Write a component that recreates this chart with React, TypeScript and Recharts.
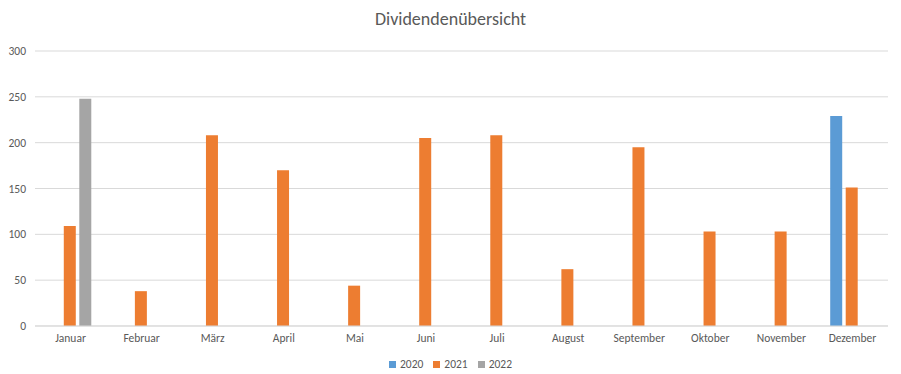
import React from "react";
import { BarChart, Bar, XAxis, YAxis, CartesianGrid } from "recharts";

const months = ["Januar", "Februar", "März", "April", "Mai", "Juni", "Juli", "August", "September", "Oktober", "November", "Dezember"];
const v2020: (number | null)[] = [null, null, null, null, null, null, null, null, null, null, null, 229];
const v2021: (number | null)[] = [109, 38, 208, 170, 44, 205, 208, 62, 195, 103, 103, 151];
const v2022: (number | null)[] = [248, null, null, null, null, null, null, null, null, null, null, null];
const yTicks = [0, 50, 100, 150, 200, 250, 300];
const seriesNames = ["2020", "2021", "2022"];
const colors = ["#5b9bd5", "#ed7d31", "#a5a5a5"];

const data = months.map((m, i) => ({ month: m, s2020: v2020[i], s2021: v2021[i], s2022: v2022[i] }));

const FONT = "Calibri, Carlito, 'Open Sans', 'Noto Sans', sans-serif";

export default function App() {
  return (
    <div style={{ position: "absolute", left: 0, top: 0, width: 901, height: 374, background: "#fff", fontFamily: FONT }}>
      <div style={{ position: "absolute", top: 8, left: 0, width: 901, textAlign: "center", fontSize: 18, color: "#595959" }}>
        Dividendenübersicht
      </div>
      <BarChart
        width={901}
        height={374}
        data={data}
        margin={{ top: 51, right: 13, bottom: 18, left: 0 }}
        barCategoryGap="18.7%"
        barGap={3.5}
      >
        <CartesianGrid vertical={false} stroke="#d9d9d9" />
        <XAxis
          dataKey="month"
          tickLine={false}
          axisLine={{ stroke: "#d9d9d9" }}
          tick={{ fontSize: 11.5, fill: "#595959", fontFamily: FONT }}
          interval={0}
          tickMargin={2}
        />
        <YAxis
          domain={[0, 300]}
          ticks={yTicks}
          width={35}
          axisLine={false}
          tickLine={false}
          tick={{ fontSize: 11.5, fill: "#595959", fontFamily: FONT }}
          tickMargin={3}
        />
        <Bar dataKey="s2020" name={seriesNames[0]} fill={colors[0]} isAnimationActive={false} />
        <Bar dataKey="s2021" name={seriesNames[1]} fill={colors[1]} isAnimationActive={false} />
        <Bar dataKey="s2022" name={seriesNames[2]} fill={colors[2]} isAnimationActive={false} />
      </BarChart>
      <div style={{ position: "absolute", top: 357, left: 0, width: 901, display: "flex", justifyContent: "center", fontSize: 11.5, color: "#595959" }}>
        {seriesNames.map((n, i) => (
          <span key={n} style={{ display: "flex", alignItems: "center", marginRight: i < 2 ? 10 : 0, marginLeft: 0 }}>
            <span style={{ display: "inline-block", width: 7, height: 7, background: colors[i], marginRight: 4 }} />
            {n}
          </span>
        ))}
      </div>
    </div>
  );
}
